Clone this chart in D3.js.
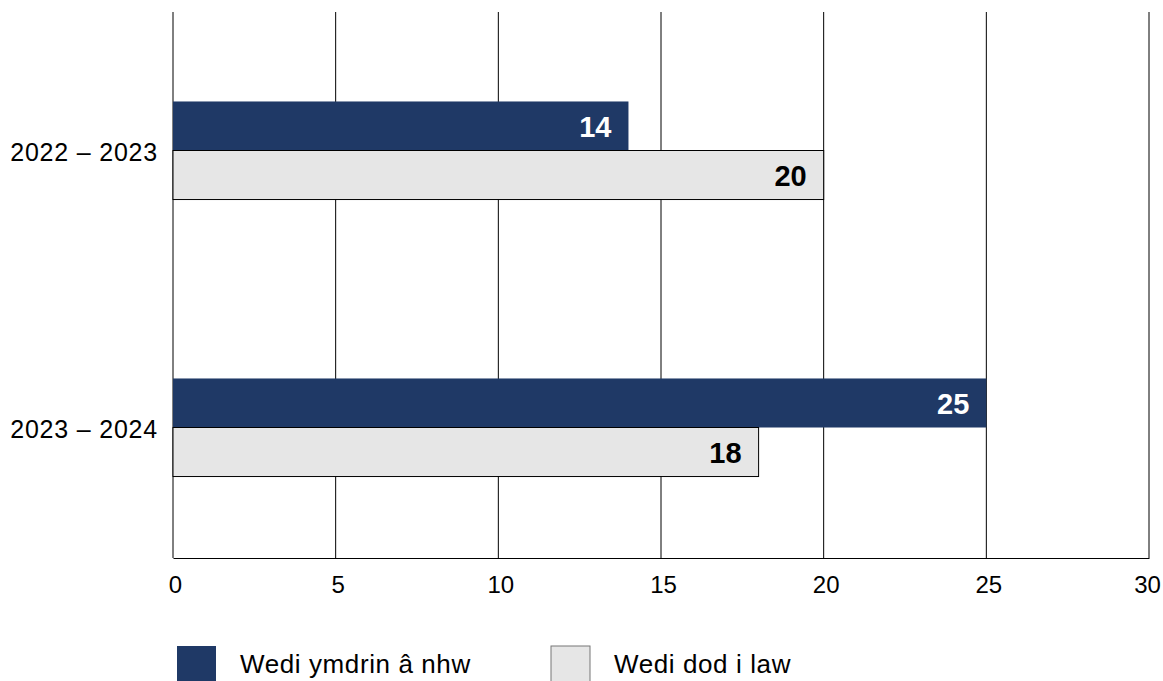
<!DOCTYPE html>
<html>
<head>
<meta charset="utf-8">
<script src="https://cdn.jsdelivr.net/npm/d3@7"></script>
<style>
  body { margin: 0; background: #fff; }
  svg { font-family: "Liberation Sans", Arial, Helvetica, sans-serif; }
</style>
</head>
<body>
<svg id="chart" width="1163" height="681"></svg>
<script>
// data
const categories = ["2022 \u2013 2023", "2023 \u2013 2024"];
const seriesNames = ["Wedi ymdrin \u00e2 nhw", "Wedi dod i law"];
const handled = [14, 25];
const received = [20, 18];
const xTicks = [0, 5, 10, 15, 20, 25, 30];

const colours = ["#1f3966", "#e6e6e6"];

const svg = d3.select("#chart");

//plot area
const plotLeft = 173, plotRight = 1149, plotTop = 12, plotBottom = 558;

const xScale = d3.scaleLinear().domain([0, 30]).range([plotLeft, plotRight]);
const yScale = d3.scaleBand().domain(categories).range([plotTop, 566]).paddingInner(0.646).paddingOuter(0.323);
const subScale = d3.scaleBand().domain([0, 1]).range([0, yScale.bandwidth()]);

//gridlines
svg.append("g")
  .selectAll("line")
  .data(xTicks)
  .join("line")
  .attr("x1", (d) => xScale(d))
  .attr("x2", (d) => xScale(d))
  .attr("y1", plotTop)
  .attr("y2", plotBottom)
  .attr("stroke", "#000")
  .attr("stroke-width", 1);

//x axis
const xAxis = d3.axisBottom(xScale).tickValues(xTicks).tickSize(0).tickPadding(18);
const gx = svg.append("g")
  .attr("transform", `translate(0, ${plotBottom})`)
  .call(xAxis);
gx.select(".domain").attr("stroke", "#000");
gx.selectAll("text")
  .attr("font-size", 24)
  .attr("fill", "#000")
  .attr("font-family", "Liberation Sans, Arial, sans-serif")
  .attr("dx", (d) => (d === 30 ? -2 : 2));

//y labels
svg.append("g")
  .selectAll("text")
  .data(categories)
  .join("text")
  .attr("x", 158)
  .attr("y", (d) => yScale(d) + yScale.bandwidth() / 2)
  .attr("dy", "0.42em")
  .attr("text-anchor", "end")
  .attr("font-size", 25)
  .attr("letter-spacing", 0.8)
  .attr("fill", "#000")
  .text((d) => d);

//bars
const rows = [];
categories.forEach((c, i) => {
  rows.push({ cat: c, s: 0, v: handled[i] });
  rows.push({ cat: c, s: 1, v: received[i] });
});

svg.append("g")
  .selectAll("rect")
  .data(rows)
  .join("rect")
  .attr("x", xScale(0))
  .attr("y", (d) => yScale(d.cat) + subScale(d.s))
  .attr("width", (d) => xScale(d.v) - xScale(0))
  .attr("height", subScale.bandwidth())
  .attr("fill", (d) => colours[d.s])
  .attr("stroke", (d) => (d.s === 1 ? "#000" : "none"))
  .attr("stroke-width", 1);

//value labels
svg.append("g")
  .selectAll("text")
  .data(rows)
  .join("text")
  .attr("x", (d) => xScale(d.v) - 17)
  .attr("y", (d) => yScale(d.cat) + subScale(d.s) + subScale.bandwidth() / 2)
  .attr("dy", "0.37em")
  .attr("text-anchor", "end")
  .attr("font-size", 29)
  .attr("font-weight", "bold")
  .attr("fill", (d) => (d.s === 0 ? "#fff" : "#000"))
  .text((d) => d.v);

//legend
const legendX = [177, 551];
const legend = svg.append("g")
  .selectAll("g")
  .data(seriesNames)
  .join("g")
  .attr("transform", (d, i) => `translate(${legendX[i]}, 646)`);
legend.append("rect")
  .attr("width", 39)
  .attr("height", 40)
  .attr("fill", (d, i) => colours[i])
  .attr("stroke", (d, i) => (i === 1 ? "#777" : "none"));
legend.append("text")
  .attr("x", 63)
  .attr("y", 27)
  .attr("font-size", 26)
  .attr("letter-spacing", 0.6)
  .attr("fill", "#000")
  .text((d) => d);
</script>
</body>
</html>
